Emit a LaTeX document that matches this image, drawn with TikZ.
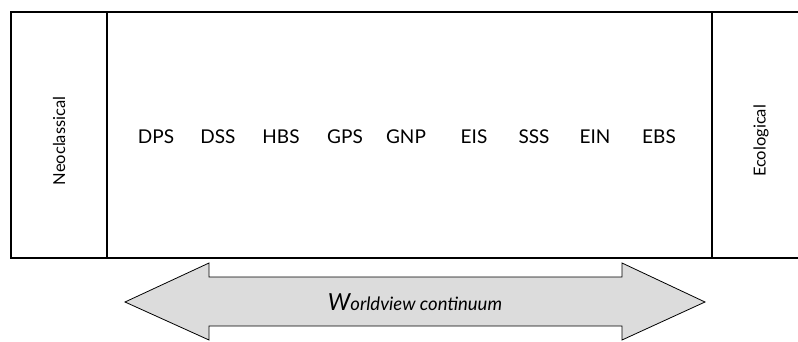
\documentclass[tikz,border=0pt]{standalone}
\usepackage{fontspec}
\setsansfont{Lato}
\renewcommand{\familydefault}{\sfdefault}
\usetikzlibrary{positioning,calc}

\definecolor{arrowgrey}{HTML}{DCDCDC}

\tikzset{
  panel/.style={draw, line width=1.5pt, minimum height=246pt, inner sep=0pt, outer sep=0pt},
  school/.style={rotate=90, font=\fontsize{16.5}{18}\selectfont},
  measure/.style={font=\fontsize{19}{22}\selectfont},
  continuum/.style={draw, line width=0.8pt, fill=arrowgrey},
}

\begin{document}
\begin{tikzpicture}[x=1pt, y=1pt]
  \useasboundingbox (0,0) rectangle (798,341);

  % the three panels
  \node[panel, minimum width=96pt, anchor=north west] (neo) at (11,329) {};
  \node[panel, minimum width=605pt, right=0pt of neo] (mid) {};
  \node[panel, minimum width=100pt, right=0pt of mid] (eco) {};

  \node[school] (neotext) at ([yshift=-6pt]neo) {Neoclassical};
  \node[school] (ecotext) at ([xshift=-1pt, yshift=-6pt]eco) {Ecological};

  % the measures along the scale
  \foreach \name/\x in {DPS/156, DSS/218, HBS/281, GPS/345, GNP/406,
                        EIS/474, SSS/534, EIN/595, EBS/659}
    \node[measure] (\name) at (\x,204) {\name};

  % double arrow underneath
  \coordinate (tipl) at (125,39);
  \coordinate (tipr) at (705,39);
  \draw[continuum] (tipl) -- (209,78) -- (209,64) -- (622,64) -- (622,78)
    -- (tipr) -- (622,1) -- (622,15) -- (209,15) -- (209,1) -- cycle;
  \node[font=\fontsize{18.5}{22}\selectfont\itshape] (world) at ($(tipl)!0.5!(tipr)$)
    {{\fontsize{23.5}{22}\selectfont W}orldview continuum};
\end{tikzpicture}
\end{document}
